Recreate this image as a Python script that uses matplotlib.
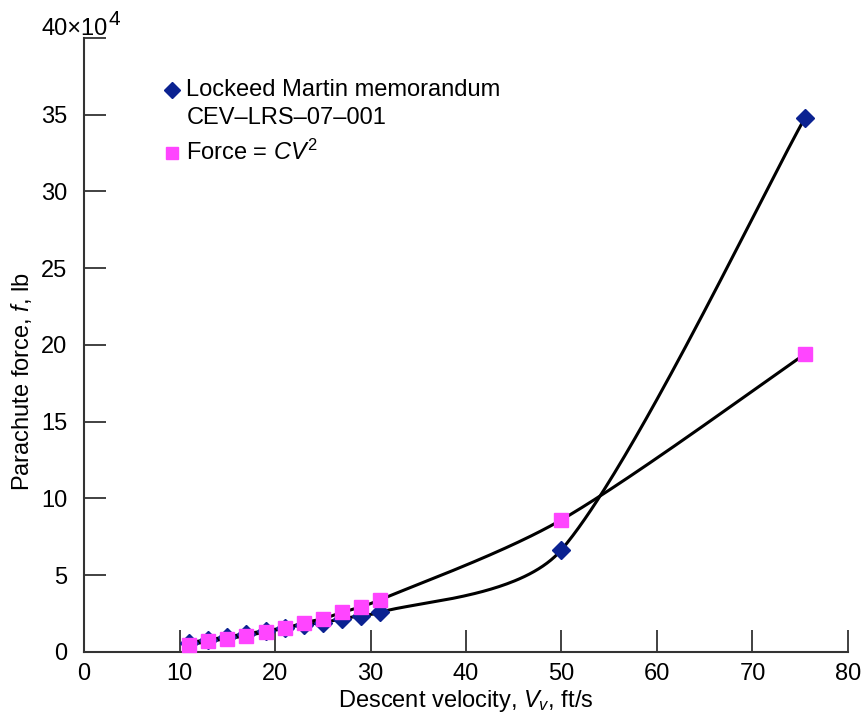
import numpy as np
import matplotlib.pyplot as plt

plt.rcParams.update({
    "font.family": ["Liberation Sans", "DejaVu Sans"],
    "font.size": 17,
    "mathtext.fontset": "custom",
    "mathtext.rm": "Liberation Sans",
    "mathtext.it": "Liberation Sans:italic",
})

# ---- data (force in units of 1e4 lb) ----
v_lm = [11, 13, 15, 17, 19, 21, 23, 25, 27, 29, 31, 50, 75.5]
f_lm = [0.6, 0.78, 0.98, 1.17, 1.37, 1.56, 1.76, 1.9, 2.15, 2.35, 2.56, 6.65, 34.8]

v_cv2 = [11, 13, 15, 17, 19, 21, 23, 25, 27, 29, 31, 50, 75.5]
f_cv2 = [0.46, 0.67, 0.85, 1.04, 1.3, 1.52, 1.89, 2.15, 2.56, 2.93, 3.38, 8.6, 19.4]

x_ticks = [0, 10, 20, 30, 40, 50, 60, 70, 80]
y_ticks = [0, 5, 10, 15, 20, 25, 30, 35, 40]

NAVY = "#0b2291"
PINK = "#ff45ff"


def smooth_curve(ax, x, y, n=80):
    # Bezier smoothing done in screen space (like a spreadsheet "smoothed line")
    pts = ax.transData.transform(np.column_stack([x, y]))
    k = len(pts)
    t = np.linspace(0, 1, n)[:, None]
    out = []
    for i in range(k - 1):
        p0, p1 = pts[max(i - 1, 0)], pts[i]
        p2, p3 = pts[i + 1], pts[min(i + 2, k - 1)]
        seg = np.linalg.norm(p2 - p1)
        d1 = p2 - p0
        d2 = p3 - p1
        c1 = p1 + d1 / np.linalg.norm(d1) * min(np.linalg.norm(d1) / 6, seg / 3)
        c2 = p2 - d2 / np.linalg.norm(d2) * min(np.linalg.norm(d2) / 6, seg / 3)
        b = (1 - t)**3 * p1 + 3 * (1 - t)**2 * t * c1 + 3 * (1 - t) * t**2 * c2 + t**3 * p2
        out.append(b)
    out = ax.transData.inverted().transform(np.vstack(out))
    return out[:, 0], out[:, 1]


fig = plt.figure(figsize=(8.67, 7.17), dpi=100)
ax = fig.add_axes([0.097, 0.091, 0.881, 0.856])
ax.set_xlim(0, 80)
ax.set_ylim(0, 40)

xs, ys = smooth_curve(ax, v_lm, f_lm)
ax.plot(xs, ys, color="black", lw=2.2, zorder=2)
xs, ys = smooth_curve(ax, v_cv2, f_cv2)
ax.plot(xs, ys, color="black", lw=2.2, zorder=2)

ax.plot(v_lm, f_lm, "D", color=NAVY, ms=9, mec=NAVY, zorder=3, clip_on=False)
ax.plot(v_cv2, f_cv2, "s", color=PINK, ms=10, mec=PINK, zorder=4, clip_on=False)

ax.set_xticks(x_ticks)
ax.set_yticks(y_ticks)
ax.set_yticklabels([str(t) for t in y_ticks[:-1]] + [""])
ax.tick_params(direction="in", length=16, width=1.3, color="#333333")
ax.tick_params(axis="x", pad=8)
ax.tick_params(axis="y", pad=12)
for s in ["top", "right"]:
    ax.spines[s].set_visible(False)
for s in ["left", "bottom"]:
    ax.spines[s].set_linewidth(1.5)
    ax.spines[s].set_color("#333333")

# "40x10^4" label above the top tick
ax.annotate("40\u00d710", xy=(0, 40), xytext=(24, 3), textcoords="offset pixels",
            ha="right", va="baseline", annotation_clip=False)
ax.annotate("4", xy=(0, 40), xytext=(24, 13), textcoords="offset pixels",
            ha="left", va="baseline", fontsize=15, annotation_clip=False)

ax.set_xlabel(r"Descent velocity, $V_v$, ft/s", labelpad=2)
ax.set_ylabel(r"Parachute force, $f$, lb")
ax.yaxis.set_label_coords(-0.066, 0.44)

# hand-made legend
ax.plot([0.115], [0.915], "D", color=NAVY, ms=8, transform=ax.transAxes, clip_on=False)
ax.text(0.134, 0.915, "Lockeed Martin memorandum", transform=ax.transAxes,
        va="center", ha="left")
ax.text(0.134, 0.869, "CEV\u2013LRS\u201307\u2013001", transform=ax.transAxes,
        va="center", ha="left")
ax.plot([0.115], [0.813], "s", color=PINK, ms=9, transform=ax.transAxes, clip_on=False)
ax.text(0.134, 0.813, r"Force = $CV^2$", transform=ax.transAxes, va="center",
        ha="left")

fig.savefig("out.png", dpi=100)
